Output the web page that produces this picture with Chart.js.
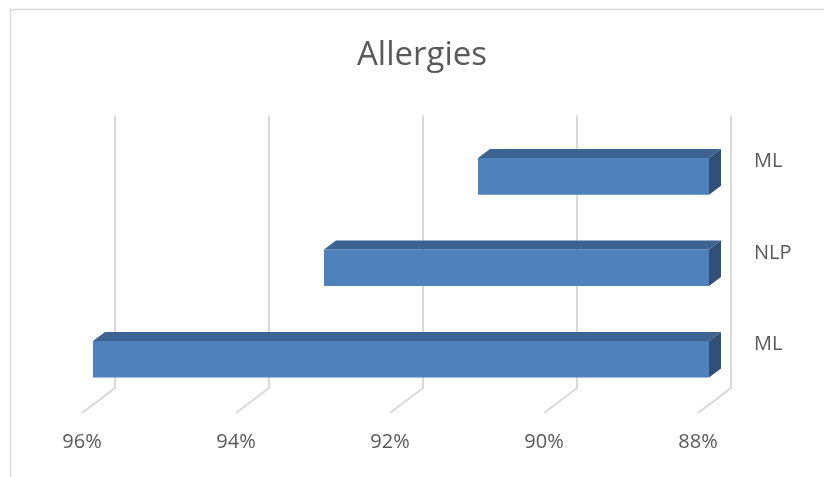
<!DOCTYPE html>
<html>
<head>
<meta charset="utf-8">
<script src="https://cdn.jsdelivr.net/npm/chart.js@4"></script>
<style>
  html, body { margin: 0; padding: 0; background: #fff; }
  #wrap { width: 824px; height: 477px; position: relative; }
</style>
</head>
<body>
<div id="wrap"><canvas id="allergies"></canvas></div>
<script>
const labels = ["ML", "NLP", "ML"]
const scores = [91, 93, 96]
const tickValues = [88, 90, 92, 94, 96]

const textColor = "#595959"
const gridColor = "#d9d9d9"
const frontColor = "#4f81bd"
const topColor = "#3c6391"
const sideColor = "#30507a"

// offsets of the fake 3d box, in px from the bar front face
const depth = {dx: 12, dy: 9}
const wall = {dx: 22, dy: -17}
const floor = {dx: -11, dy: 8}

function poly(ctx, pts) {
  ctx.beginPath()
  ctx.moveTo(pts[0][0], pts[0][1])
  for (let i = 1; i < pts.length; i++) ctx.lineTo(pts[i][0], pts[i][1])
  ctx.closePath()
  ctx.fill()
}

const box3d = {
  id: "box3d",
  beforeDraw(chart) {
    const ctx = chart.ctx
    ctx.save()
    ctx.strokeStyle = gridColor
    ctx.lineWidth = 1.5
    ctx.strokeRect(10.5, 9.5, 900, 600)
    ctx.restore()
  },
  beforeDatasetsDraw(chart) {
    const {ctx, chartArea} = chart
    const xs = chart.scales.x
    ctx.save()
    ctx.strokeStyle = gridColor
    ctx.lineWidth = 2
    xs.ticks.forEach(t => {
      const px = xs.getPixelForValue(t.value) + wall.dx
      const floorY = chartArea.bottom + wall.dy
      ctx.beginPath()
      ctx.moveTo(px, chartArea.top - 15)
      ctx.lineTo(px, floorY)
      ctx.lineTo(px - wall.dx + floor.dx, chartArea.bottom + floor.dy)
      ctx.stroke()
    })
    ctx.restore()
  },
  afterDatasetsDraw(chart) {
    const ctx = chart.ctx
    ctx.save()
    chart.getDatasetMeta(0).data.forEach(bar => {
      const {x, y, base, height} = bar.getProps(["x", "y", "base", "height"], true)
      const top = y - height / 2
      const bottom = y + height / 2
      const left = Math.min(x, base)
      const right = Math.max(x, base)
      ctx.fillStyle = topColor
      poly(ctx, [[left, top], [left + depth.dx, top - depth.dy], [right + depth.dx, top - depth.dy], [right, top]])
      ctx.fillStyle = sideColor
      poly(ctx, [[right, top], [right + depth.dx, top - depth.dy], [right + depth.dx, bottom - depth.dy], [right, bottom]])
    })
    ctx.restore()
  }
}

new Chart(document.getElementById("allergies"), {
  type: "bar",
  data: {
    labels: labels,
    datasets: [{
      data: scores,
      xAxisID: "x",
      yAxisID: "y",
      base: 88,
      backgroundColor: frontColor,
      borderWidth: 0,
      barPercentage: 0.4,
      categoryPercentage: 1
    }]
  },
  options: {
    indexAxis: "y",
    responsive: true,
    maintainAspectRatio: false,
    animation: false,
    layout: {padding: {left: 20, top: 0, right: 0, bottom: 0}},
    scales: {
      x: {
        reverse: true,
        min: 88,
        max: 96,
        afterBuildTicks: (scale) => { scale.ticks = tickValues.map(v => ({value: v})) },
        afterFit: (scale) => { scale.height = 72 },
        grid: {display: false, drawTicks: false},
        border: {display: false},
        ticks: {
          color: textColor,
          font: {family: "Open Sans", size: 20},
          padding: 25,
          labelOffset: -11,
          maxRotation: 0,
          callback: (v) => v + "%"
        }
      },
      y: {
        type: "category",
        position: "right",
        afterFit: (scale) => { scale.width = 115 },
        grid: {display: false, drawTicks: false},
        border: {display: false},
        ticks: {
          color: textColor,
          font: {family: "Open Sans", size: 20},
          padding: 45,
          labelOffset: -15
        }
      },
      // empty left column, keeps the plot clear of the frame
      pad: {
        type: "linear",
        axis: "y",
        position: "left",
        afterFit: (scale) => { scale.width = 73 },
        grid: {display: false, drawTicks: false},
        border: {display: false},
        ticks: {display: false}
      }
    },
    plugins: {
      legend: {display: false},
      tooltip: {enabled: false},
      title: {
        display: true,
        text: "Allergies",
        color: textColor,
        font: {family: "Open Sans", size: 33, weight: "normal"},
        padding: {top: 36, bottom: 55}
      }
    }
  },
  plugins: [box3d]
})
</script>
</body>
</html>
